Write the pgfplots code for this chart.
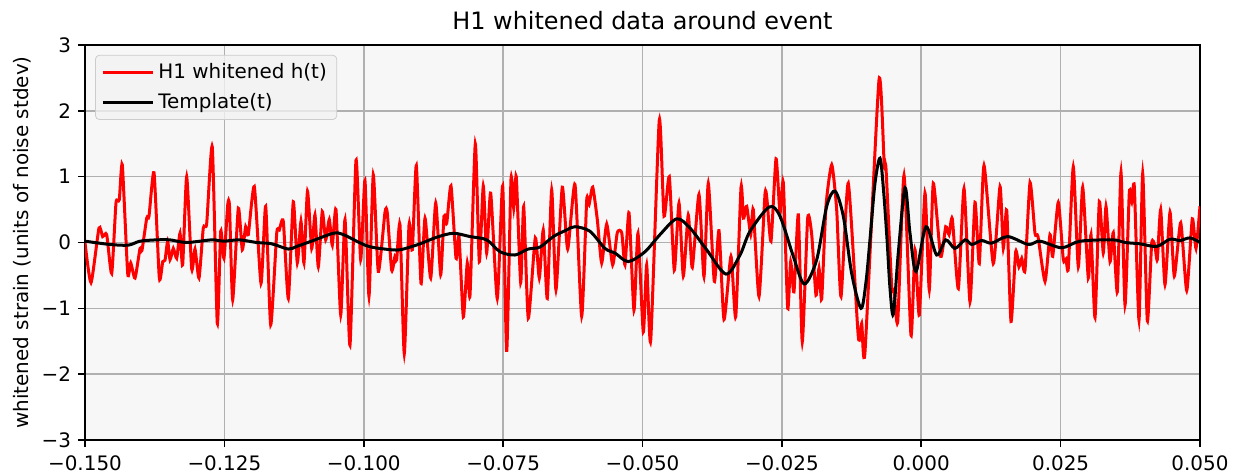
\documentclass[border=0pt]{standalone}
\usepackage{fontspec}
\setmainfont{DejaVu Sans}
\usepackage{pgfplots}
\pgfplotsset{compat=1.18}
\definecolor{axbg}{HTML}{F7F7F7}
\definecolor{gridc}{HTML}{B0B0B0}

\begin{document}
\begin{tikzpicture}
\useasboundingbox (-42.5bp,-17bp) rectangle (579.5bp,220bp);
\begin{axis}[
    at={(0,0)}, anchor=south west,
    scale only axis, width=557.5bp, height=197.5bp,
    xmin=-0.15, xmax=0.05, ymin=-3, ymax=3,
    xtick={-0.15,-0.125,-0.1,-0.075,-0.05,-0.025,0,0.025,0.05},
    xticklabels={−0.150,−0.125,−0.100,−0.075,−0.050,−0.025,0.000,0.025,0.050},
    ytick={-3,-2,-1,0,1,2,3},
    yticklabels={−3,−2,−1,0,1,2,3},
    tick pos=left, tick align=outside, major tick length=3.5bp,
    tick style={black, line width=0.8bp},
    axis line style={line width=0.8bp},
    grid=major, grid style={gridc, line width=0.8bp},
    axis background/.style={fill=axbg},
    tick label style={font=\fontsize{10}{12}\selectfont},
    xticklabel style={yshift=-1bp},
    title={H1 whitened data around event},
    every axis title shift=0pt,
    title style={font=\fontsize{12}{14}\selectfont, at={(axis description cs:0.5,1.04)}, anchor=base, yshift=0pt},
    ylabel={whitened strain (units of noise stdev)},
    ylabel style={font=\fontsize{10}{12}\selectfont, at={(axis description cs:-0.0565,0.5)}, anchor=center},
    legend style={at={(axis description cs:0.009,0.975)}, anchor=north west,
        draw=black!20, fill=black!5, fill opacity=0.8, text opacity=1, draw opacity=1,
        rounded corners=2bp, font=\fontsize{10}{12}\selectfont,
        inner xsep=3bp, inner ysep=2bp, row sep=2bp, nodes={inner sep=2bp}},
    legend cell align=left,
    legend image code/.code={\draw[#1] (0bp,0bp) -- (21.5bp,0bp);
        \path (0bp,0bp) -- (25bp,0bp);},
]
% whitened strain
\addplot[red, line width=1.5bp, smooth, tension=0.35, no markers] coordinates {
(-0.15000,0.00)(-0.14892,-0.61)(-0.14749,0.22)(-0.14683,0.09)(-0.14611,0.12)
(-0.14521,-0.47)(-0.14444,0.60)(-0.14385,0.65)(-0.14331,1.18)(-0.14234,-0.47)
(-0.14180,-0.31)(-0.14103,-0.54)(-0.14013,-0.09)(-0.13978,-0.12)(-0.13893,0.37)
(-0.13852,0.40)(-0.13762,1.06)(-0.13667,-0.54)(-0.13606,-0.29)(-0.13565,-0.27)
(-0.13517,0.02)(-0.13475,-0.26)(-0.13416,-0.09)(-0.13355,-0.24)(-0.13296,0.14)
(-0.13248,-0.34)(-0.13176,1.00)(-0.13086,-0.40)(-0.13027,-0.10)(-0.12955,-0.54)
(-0.12878,0.22)(-0.12817,0.29)(-0.12717,1.45)(-0.12627,-1.23)(-0.12566,0.17)
(-0.12507,-0.24)(-0.12440,0.57)(-0.12408,0.55)(-0.12351,-0.87)(-0.12250,0.52)
(-0.12179,-0.11)(-0.12118,0.24)(-0.12071,0.12)(-0.11963,0.85)(-0.11843,-0.62)
(-0.11759,0.55)(-0.11669,-1.25)(-0.11561,0.14)(-0.11515,0.19)(-0.11443,0.32)
(-0.11353,-0.85)(-0.11264,0.62)(-0.11192,-0.31)(-0.11126,0.32)(-0.11072,-0.31)
(-0.11009,0.78)(-0.10934,-0.09)(-0.10875,0.42)(-0.10815,-0.37)(-0.10744,0.47)
(-0.10683,0.04)(-0.10618,0.35)(-0.10564,-0.04)(-0.10498,0.50)(-0.10413,-1.10)
(-0.10336,0.35)(-0.10247,-1.56)(-0.10139,1.25)(-0.10055,-0.26)(-0.09978,0.94)
(-0.09906,-0.82)(-0.09829,1.03)(-0.09739,-0.44)(-0.09619,0.46)(-0.09578,0.45)
(-0.09499,-0.42)(-0.09440,-0.21)(-0.09409,-0.26)(-0.09350,0.27)(-0.09273,-1.69)
(-0.09188,0.27)(-0.09129,-0.11)(-0.09057,1.17)(-0.08973,-0.62)(-0.08901,0.37)
(-0.08799,-0.54)(-0.08709,0.60)(-0.08620,-0.49)(-0.08561,0.40)(-0.08512,0.29)
(-0.08435,0.86)(-0.08345,-0.24)(-0.08291,0.09)(-0.08214,-1.13)(-0.08143,-0.31)
(-0.08094,-0.80)(-0.07999,1.50)(-0.07927,-0.29)(-0.07856,0.86)(-0.07795,-0.16)
(-0.07723,0.75)(-0.07605,-0.85)(-0.07508,0.86)(-0.07436,-1.66)(-0.07359,0.96)
(-0.07310,0.52)(-0.07264,1.00)(-0.07185,-0.61)(-0.07131,0.55)(-0.07049,-1.15)
(-0.06923,0.07)(-0.06851,-0.54)(-0.06780,0.19)(-0.06708,-0.85)(-0.06629,0.80)
(-0.06552,-0.72)(-0.06439,0.84)(-0.06342,-0.10)(-0.06211,0.88)(-0.06091,-1.12)
(-0.06001,0.64)(-0.05960,0.57)(-0.05893,0.84)(-0.05811,0.35)(-0.05732,-0.31)
(-0.05642,0.28)(-0.05535,-0.34)(-0.05452,0.15)(-0.05373,0.15)(-0.05314,-0.34)
(-0.05242,0.45)(-0.05153,-1.03)(-0.05081,0.14)(-0.04986,-1.36)(-0.04925,-0.34)
(-0.04853,-1.49)(-0.04699,1.86)(-0.04614,0.40)(-0.04519,1.00)(-0.04430,-0.42)
(-0.04345,0.60)(-0.04268,-0.51)(-0.04179,0.42)(-0.04107,-0.38)(-0.03987,0.73)
(-0.03897,-0.52)(-0.03820,0.90)(-0.03712,-0.59)(-0.03628,0.18)(-0.03538,-1.17)
(-0.03413,-0.21)(-0.03328,-1.13)(-0.03233,0.84)(-0.03188,0.37)(-0.03131,0.55)
(-0.03059,0.12)(-0.03013,0.50)(-0.02910,-0.82)(-0.02803,0.73)(-0.02767,0.65)
(-0.02695,0.02)(-0.02605,1.27)(-0.02534,0.45)(-0.02474,0.91)(-0.02396,-1.00)
(-0.02342,-0.29)(-0.02283,-0.75)(-0.02205,0.42)(-0.02134,-1.51)(-0.02037,0.37)
(-0.01965,0.12)(-0.01888,-0.80)(-0.01834,-0.39)(-0.01786,-0.86)(-0.01709,0.55)
(-0.01606,1.18)(-0.01517,0.50)(-0.01439,-0.82)(-0.01309,0.90)(-0.01129,-1.43)
(-0.01068,-1.23)(-0.01009,-1.66)(-0.00758,2.47)(-0.00663,1.16)(-0.00632,1.12)
(-0.00530,-0.67)(-0.00489,-0.72)(-0.00422,-1.20)(-0.00309,1.02)(-0.00184,-1.41)
(-0.00112,-0.11)(-0.00035,-1.10)(0.00067,0.75)(0.00144,-0.72)(0.00216,0.90)
(0.00349,-0.21)(0.00439,0.24)(0.00498,0.12)(0.00557,0.36)(0.00665,-0.70)
(0.00767,0.82)(0.00874,-0.90)(0.00964,0.61)(0.01041,-0.32)(0.01126,1.17)
(0.01292,-0.32)(0.01413,0.85)(0.01472,-0.09)(0.01533,0.49)(0.01610,-1.20)
(0.01694,-0.14)(0.01753,-0.37)(0.01802,-0.24)(0.01861,-0.42)(0.01951,0.91)
(0.02040,0.14)(0.02094,0.09)(0.02220,-0.59)(0.02309,0.12)(0.02358,-0.21)
(0.02458,0.61)(0.02548,-0.26)(0.02596,-0.25)(0.02638,-0.39)(0.02727,1.15)
(0.02817,-0.37)(0.02896,0.84)(0.02996,-0.54)(0.03045,0.12)(0.03117,-1.14)
(0.03194,0.62)(0.03265,-0.16)(0.03314,0.55)(0.03386,-0.29)(0.03445,0.15)
(0.03517,-0.75)(0.03583,1.07)(0.03655,-0.95)(0.03732,0.76)(0.03775,0.62)
(0.03822,0.85)(0.03906,-1.18)(0.03972,1.05)(0.04055,-1.19)(0.04134,-0.01)
(0.04193,-0.06)(0.04234,-0.26)(0.04295,0.50)(0.04372,-0.64)(0.04462,0.46)
(0.04539,-0.51)(0.04654,0.30)(0.04762,-0.73)(0.04862,0.36)(0.04928,-0.09)
(0.05000,0.55)
};
\addlegendentry{H1 whitened h(t)}
% template
\addplot[black, line width=1.5bp, smooth, tension=0.5, no markers] coordinates {
(-0.15000,0.02)(-0.14552,-0.03)(-0.14223,-0.04)(-0.14013,0.02)(-0.13714,0.04)
(-0.13475,0.04)(-0.13176,0.00)(-0.12727,0.04)(-0.12519,0.02)(-0.12232,0.04)
(-0.11920,0.00)(-0.11651,-0.02)(-0.11353,-0.10)(-0.11203,-0.06)(-0.10905,0.03)
(-0.10546,0.14)(-0.10367,0.12)(-0.09947,-0.05)(-0.09619,-0.10)(-0.09350,-0.11)
(-0.08991,-0.02)(-0.08692,0.08)(-0.08394,0.14)(-0.08094,0.09)(-0.07795,0.04)
(-0.07556,-0.14)(-0.07287,-0.19)(-0.07054,-0.10)(-0.06839,-0.07)(-0.06600,0.09)
(-0.06360,0.19)(-0.06211,0.24)(-0.05942,0.17)(-0.05673,-0.09)(-0.05493,-0.16)
(-0.05255,-0.29)(-0.04955,-0.14)(-0.04686,0.12)(-0.04387,0.36)(-0.04148,0.22)
(-0.03849,-0.11)(-0.03502,-0.48)(-0.03251,-0.19)(-0.03072,0.17)(-0.02726,0.54)
(-0.02534,0.40)(-0.02295,-0.21)(-0.02098,-0.63)(-0.01875,-0.26)(-0.01696,0.55)
(-0.01547,0.78)(-0.01398,0.40)(-0.01248,-0.47)(-0.01081,-1.00)(-0.00991,-0.60)
(-0.00919,0.05)(-0.00830,0.90)(-0.00740,1.28)(-0.00677,0.80)(-0.00614,0.05)
(-0.00560,-0.70)(-0.00501,-1.09)(-0.00412,-0.16)(-0.00291,0.83)(-0.00202,0.14)
(-0.00094,-0.44)(0.00085,0.24)(0.00277,-0.19)(0.00439,0.04)(0.00605,-0.09)
(0.00785,0.04)(0.00905,-0.03)(0.01084,0.03)(0.01264,-0.01)(0.01551,0.09)
(0.01920,-0.03)(0.02130,0.02)(0.02519,-0.08)(0.02848,0.02)(0.03439,0.04)
(0.03655,0.00)(0.03924,-0.02)(0.04223,-0.06)(0.04462,0.05)(0.04641,0.03)
(0.04821,0.07)(0.05000,0.00)
};
\addlegendentry{Template(t)}
\end{axis}
\end{tikzpicture}
\end{document}
